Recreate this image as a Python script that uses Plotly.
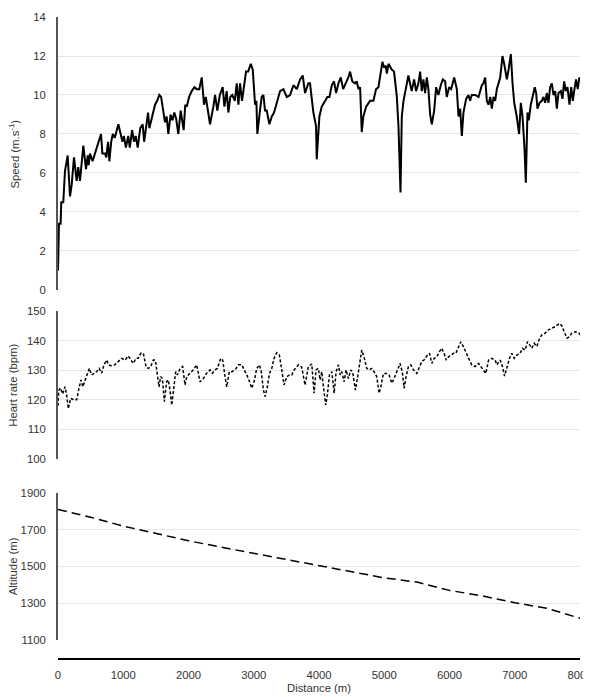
import plotly.graph_objects as go

# ---------------- data ----------------
speed_dist = [0, 15, 40, 50, 81, 107, 148, 184, 210, 245, 286, 310, 337, 360, 388, 429, 455, 470, 490, 530,
              593, 620, 659, 680, 720, 740, 767, 787, 815, 840, 870, 925, 960, 988, 1010, 1040, 1077, 1100,
              1136, 1165, 1190, 1222, 1260, 1298, 1320, 1359, 1380, 1400, 1440, 1487, 1520, 1553, 1580, 1614,
              1640, 1665, 1691, 1725, 1755, 1783, 1810, 1844, 1880, 1926, 1950, 1973, 2010, 2049, 2090, 2126,
              2165, 2203, 2238, 2265, 2289, 2330, 2381, 2407, 2442, 2480, 2524, 2550, 2585, 2611, 2640, 2672,
              2710, 2739, 2765, 2790, 2820, 2850, 2882, 2915, 2954, 2985, 3020, 3040, 3055, 3095, 3122, 3148,
              3173, 3199, 3240, 3276, 3311, 3345, 3403, 3455, 3506, 3557, 3608, 3660, 3710, 3751, 3786, 3837,
              3862, 3914, 3955, 3965, 4006, 4042, 4093, 4128, 4160, 4196, 4230, 4262, 4298, 4334, 4370, 4410,
              4450, 4476, 4510, 4553, 4578, 4605, 4630, 4655, 4680, 4722, 4783, 4834, 4875, 4911, 4947, 4972,
              4998, 5024, 5040, 5065, 5116, 5150, 5193, 5218, 5249, 5269, 5295, 5335, 5370, 5395, 5420, 5458,
              5488, 5524, 5550, 5575, 5600, 5626, 5652, 5677, 5703, 5729, 5765, 5795, 5830, 5866, 5897, 5933,
              5958, 5994, 6025, 6072, 6112, 6138, 6163, 6189, 6214, 6255, 6290, 6316, 6342, 6393, 6445, 6495,
              6520, 6547, 6572, 6598, 6624, 6649, 6675, 6700, 6725, 6777, 6812, 6838, 6879, 6905, 6940, 6966,
              6992, 7030, 7067, 7093, 7119, 7149, 7170, 7195, 7215, 7246, 7277, 7307, 7328, 7348, 7380, 7415,
              7440, 7466, 7491, 7517, 7542, 7568, 7594, 7620, 7645, 7670, 7706, 7731, 7757, 7782, 7808, 7839,
              7865, 7890, 7910, 7939, 7965, 7990, 8000]
speed_vals = [1.0, 3.4, 3.4, 4.5, 4.5, 6.1, 6.9, 4.8, 5.4, 6.8, 5.6, 6.3, 5.6, 6.4, 7.4, 6.2, 6.9, 6.4, 7.0, 6.6,
              7.3, 7.5, 8.0, 7.0, 7.0, 6.8, 7.6, 6.6, 7.6, 8.0, 7.8, 8.5, 8.0, 7.6, 7.9, 7.3, 7.9, 7.3,
              8.2, 7.6, 7.9, 7.3, 8.3, 8.5, 7.6, 8.7, 9.1, 8.3, 8.9, 9.5, 9.7, 10.0, 9.9, 9.1,
              8.6, 8.9, 8.0, 9.0, 8.7, 9.1, 8.8, 8.0, 9.2, 8.2, 9.5, 9.4, 9.9, 10.2, 10.4, 10.3,
              10.3, 10.9, 9.5, 9.9, 9.4, 8.5, 9.4, 10.0, 9.2, 10.0, 10.4, 9.4, 10.2, 9.1, 9.9, 10.0,
              9.7, 10.6, 9.5, 10.6, 9.7, 10.5, 11.2, 11.2, 11.6, 11.3, 9.5, 9.7, 8.0, 9.2, 9.9, 10.0,
              9.2, 9.2, 8.5, 8.9, 9.1, 9.5, 10.2, 10.3, 9.9, 10.0, 10.5, 10.3, 10.8, 11.0, 10.1, 10.6,
              10.6, 9.1, 8.4, 6.7, 8.9, 9.4, 9.7, 9.9, 9.9, 10.5, 10.7, 10.1, 10.6, 10.9, 10.3, 10.6,
              10.9, 11.2, 10.7, 10.6, 10.7, 10.3, 10.4, 8.1, 8.9, 9.4, 9.7, 9.7, 10.3, 10.4, 11.1, 11.7,
              11.4, 11.5, 11.1, 11.6, 11.3, 11.2, 9.9, 8.4, 5.0, 8.9, 9.7, 10.4, 11.0, 10.6, 10.2, 10.8,
              10.2, 10.6, 11.2, 10.2, 10.8, 10.1, 10.9, 10.3, 9.0, 8.5, 9.2, 10.4, 10.0, 10.5, 10.8, 10.7,
              9.9, 10.4, 10.3, 10.9, 10.3, 8.9, 9.3, 7.9, 9.1, 9.8, 10.0, 9.7, 10.0, 10.0, 9.9, 10.5,
              10.6, 10.9, 9.7, 9.5, 9.9, 9.3, 9.9, 9.7, 10.3, 10.9, 12.0, 11.6, 10.8, 11.3, 12.1, 10.6,
              9.6, 8.9, 8.0, 9.6, 8.9, 7.3, 5.5, 9.1, 8.7, 9.5, 10.0, 10.4, 10.1, 9.3, 9.6, 9.7,
              9.9, 9.6, 10.1, 9.6, 10.4, 10.6, 10.0, 10.2, 9.3, 10.1, 10.2, 9.8, 10.7, 10.2, 10.4, 9.5,
              10.4, 9.7, 10.2, 10.8, 10.3, 10.9, 10.7]

hr_dist = [0, 10, 35, 72, 107, 130, 158, 194, 240, 286, 327, 353, 380, 414, 450, 480, 515, 555, 593, 630,
           669, 705, 746, 775, 812, 870, 925, 975, 1028, 1078, 1118, 1155, 1195, 1230, 1268, 1308, 1349,
           1385, 1420, 1461, 1492, 1522, 1548, 1573, 1600, 1630, 1665, 1690, 1716, 1743, 1768, 1804, 1830,
           1871, 1910, 1947, 1973, 2024, 2074, 2126, 2177, 2228, 2279, 2330, 2365, 2407, 2442, 2494, 2524,
           2560, 2586, 2626, 2662, 2714, 2765, 2816, 2867, 2918, 2969, 3005, 3046, 3086, 3112, 3148, 3174,
           3209, 3240, 3276, 3311, 3352, 3393, 3429, 3465, 3506, 3547, 3583, 3618, 3685, 3735, 3786, 3812,
           3837, 3889, 3925, 3955, 3990, 4017, 4042, 4068, 4103, 4128, 4160, 4196, 4232, 4262, 4298, 4324,
           4350, 4385, 4415, 4450, 4488, 4518, 4558, 4593, 4630, 4655, 4690, 4732, 4767, 4808, 4844, 4885,
           4921, 4947, 4987, 5038, 5074, 5116, 5150, 5193, 5243, 5280, 5304, 5335, 5370, 5406, 5447, 5498,
           5540, 5575, 5616, 5652, 5693, 5729, 5765, 5806, 5844, 5880, 5917, 5950, 5985, 6020, 6061, 6097,
           6138, 6174, 6214, 6265, 6306, 6342, 6393, 6445, 6480, 6520, 6557, 6598, 6649, 6700, 6725, 6777,
           6812, 6844, 6879, 6919, 6955, 6992, 7032, 7083, 7119, 7160, 7195, 7226, 7262, 7298, 7339, 7380,
           7415, 7466, 7517, 7568, 7620, 7685, 7721, 7757, 7800, 7839, 7875, 7928, 7980, 8000]
hr_vals = [118, 123, 124, 122, 124.4, 122, 117, 120.5, 120, 120, 124.4, 126.7, 124.4, 126.7, 128.4, 130.6,
           128.4, 129, 129.5, 130.6, 129, 131.8, 133.4, 131.8, 131.5, 131.8, 132.9, 134, 133.4, 134.8,
           133.4, 132.3, 134, 134, 135.7, 135.7, 131.2, 130.6, 131.2, 133.4, 133.4, 128.4, 124.4, 127.8,
           127.2, 119.4, 126.1, 126.7, 123.3, 118.2, 122.2, 129.5, 128.4, 130.6, 131.2, 125, 127.8, 129,
           130.1, 131.8, 126.1, 127.2, 129, 130.1, 129, 130.1, 130.6, 134, 133.4, 127.8, 124.4, 129.5,
           129.5, 130.1, 131.8, 131.8, 129.5, 127.2, 123.9, 126.1, 130.6, 131.8, 130.1, 123.3, 121.1,
           124.4, 128.9, 130.6, 134, 135.9, 135.1, 130.1, 125, 127.8, 128.4, 128.4, 130.1, 131.8, 131,
           125, 128.9, 131.2, 132.1, 122.2, 130.1, 130.6, 126.7, 129.5, 124.4, 118.2, 121.6, 128.4,
           129.5, 122.2, 129.5, 131.8, 128.4, 129.5, 126.1, 130.1, 127.2, 130.1, 129.2, 123.3, 127.8,
           132.9, 136.8, 134.5, 130.6, 130.1, 130.6, 129.5, 127.8, 122.2, 124.4, 128.9, 128.9, 128.4,
           125.6, 127.2, 129.5, 132.3, 128.9, 123.9, 127.8, 131.2, 131.8, 130.1, 128.9, 131.2, 132.9,
           133.6, 134.8, 135.7, 132.3, 134, 134.5, 136.2, 137.4, 135.7, 133.4, 134.5, 135.1, 135.7,
           135.7, 137.9, 139.6, 137.9, 135.7, 133.4, 131.8, 131.2, 132.3, 131.2, 130.1, 128.9, 133.4,
           134, 133.4, 131.8, 133.4, 131.2, 128, 131.2, 134, 135.7, 134, 135.1, 135.7, 137.4, 136.8,
           139.6, 138.5, 137.4, 139.1, 138, 140.8, 141.9, 142.5, 143.6, 144.2, 144.7, 145.8, 145, 143,
           140.8, 141.3, 142.5, 143, 142.7, 141.9]

alt_dist = [0, 500, 1000, 1500, 2000, 2500, 3000, 3500, 4000, 4500, 5000, 5500, 6000, 6500, 7000, 7500, 8000]
alt_vals = [1810, 1768, 1720, 1678, 1640, 1605, 1572, 1535, 1503, 1470, 1438, 1415, 1370, 1340, 1303, 1272, 1218]

x_ticks = [0, 1000, 2000, 3000, 4000, 5000, 6000, 7000, 8000]
speed_ticks = [0, 2, 4, 6, 8, 10, 12, 14]
hr_ticks = [100, 110, 120, 130, 140, 150]
alt_ticks = [1100, 1300, 1500, 1700, 1900]

# ---------------- figure ----------------
FONT = "Liberation Sans, Arial, Helvetica, sans-serif"
TXT = "#333333"
FS = 11.3

fig = go.Figure()
fig.add_trace(go.Scatter(x=speed_dist, y=speed_vals, mode="lines",
                         line=dict(color="black", width=2), xaxis="x", yaxis="y", showlegend=False))
fig.add_trace(go.Scatter(x=hr_dist, y=hr_vals, mode="lines",
                         line=dict(color="black", width=1.5, dash="3px,2px"), xaxis="x", yaxis="y2",
                         showlegend=False))
fig.add_trace(go.Scatter(x=alt_dist, y=alt_vals, mode="lines",
                         line=dict(color="black", width=1.5, dash="9px,5px"), xaxis="x", yaxis="y3",
                         showlegend=False))

yax_common = dict(showline=True, linecolor="#555555", linewidth=2, showgrid=True, gridcolor="#e6e6e6",
                  gridwidth=1, zeroline=False, anchor="x", ticks="outside", ticklen=8, automargin=False,
                  tickcolor="rgba(0,0,0,0)", tickfont=dict(family=FONT, size=FS, color=TXT), fixedrange=True)

# the page body has an 8px margin, so the figure is 8px smaller and margins compensate
fig.update_layout(
    width=583, height=689,
    margin=dict(l=50, r=11, t=9, b=38, autoexpand=False),
    paper_bgcolor="white", plot_bgcolor="white",
    font=dict(family=FONT, color=TXT),
    xaxis=dict(range=[0, 8000], tickvals=x_ticks, anchor="free", position=0, showline=True,
               linecolor="black", linewidth=1.5, showgrid=False, zeroline=False, ticks="outside",
               ticklen=6, tickcolor="rgba(0,0,0,0)", ticklabeloverflow="allow", automargin=False,
               tickfont=dict(family=FONT, size=FS, color=TXT)),
    yaxis=dict(domain=[0.5748, 1.0], range=[0, 14], tickvals=speed_ticks, **yax_common),
    yaxis2=dict(domain=[0.3115, 0.5421], range=[100, 150], tickvals=hr_ticks, **yax_common),
    yaxis3=dict(domain=[0.0296, 0.2586], range=[1100, 1900], tickvals=alt_ticks, **yax_common),
)

title_font = dict(family=FONT, size=FS, color=TXT)
fig.add_annotation(text="Speed (m.s<sup>-1</sup>)", xref="paper", yref="paper", x=-0.0824, y=0.7874,
                   textangle=-90, showarrow=False, font=title_font, xanchor="center", yanchor="middle")
fig.add_annotation(text="Heart rate (bpm)", xref="paper", yref="paper", x=-0.0868, y=0.4268,
                   textangle=-90, showarrow=False, font=title_font, xanchor="center", yanchor="middle")
fig.add_annotation(text="Altitude (m)", xref="paper", yref="paper", x=-0.0868, y=0.144,
                   textangle=-90, showarrow=False, font=title_font, xanchor="center", yanchor="middle")
fig.add_annotation(text="Distance (m)", xref="paper", yref="paper", x=0.5, y=-0.0452,
                   showarrow=False, font=title_font, xanchor="center", yanchor="middle")

fig.write_html("out.html")
